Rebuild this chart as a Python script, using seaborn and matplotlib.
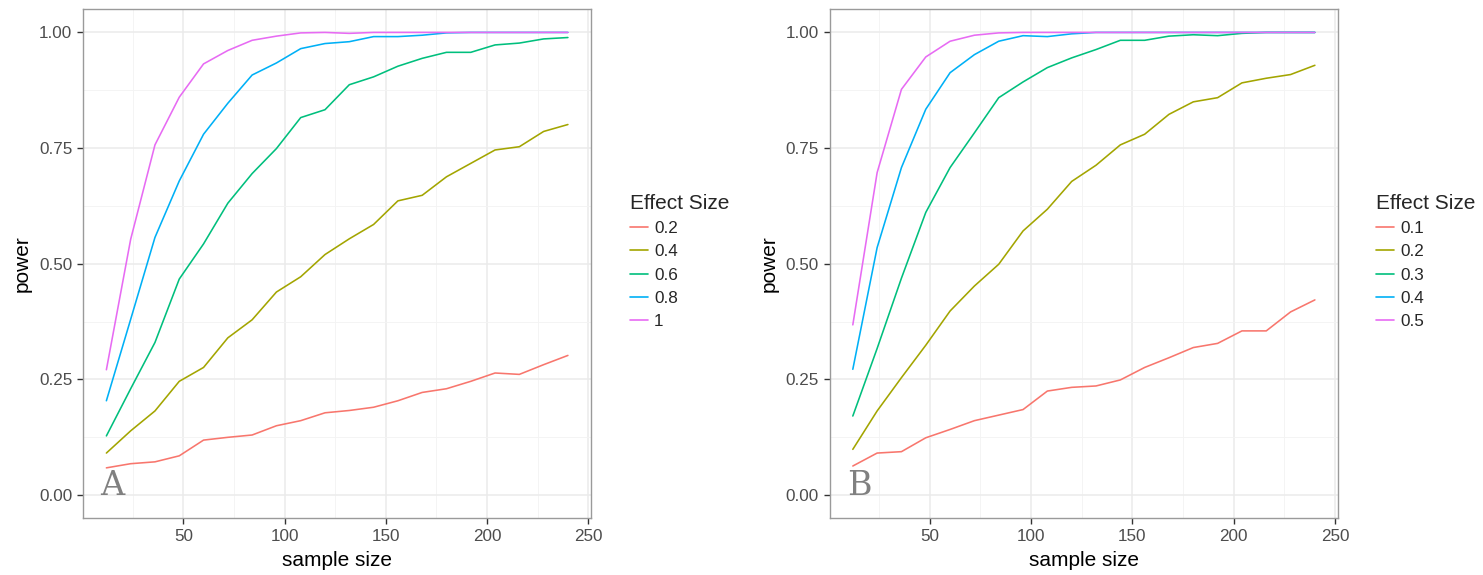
import numpy as np
import pandas as pd
import matplotlib
matplotlib.use("Agg")
import matplotlib.pyplot as plt
import seaborn as sns
from matplotlib.ticker import FixedLocator

sample_size = [12, 24, 36, 48, 60, 72, 84, 96, 108, 120, 132, 144, 156, 168, 180, 192, 204, 216, 228, 240]

# Panel A
labels_a = ["0.2", "0.4", "0.6", "0.8", "1"]
a_02 = [0.059, 0.068, 0.072, 0.085, 0.119, 0.125, 0.130, 0.150, 0.161, 0.178, 0.183, 0.190, 0.204, 0.222, 0.230, 0.246, 0.264, 0.261, 0.282, 0.302]
a_04 = [0.091, 0.139, 0.182, 0.246, 0.276, 0.340, 0.379, 0.439, 0.472, 0.520, 0.554, 0.585, 0.636, 0.648, 0.688, 0.717, 0.746, 0.753, 0.786, 0.801]
a_06 = [0.128, 0.230, 0.330, 0.467, 0.543, 0.631, 0.695, 0.749, 0.816, 0.833, 0.887, 0.904, 0.927, 0.944, 0.957, 0.957, 0.973, 0.977, 0.986, 0.989]
a_08 = [0.204, 0.380, 0.557, 0.679, 0.780, 0.847, 0.908, 0.934, 0.965, 0.976, 0.980, 0.991, 0.991, 0.994, 0.999, 1.000, 1.000, 1.000, 1.000, 1.000]
a_10 = [0.271, 0.553, 0.757, 0.860, 0.932, 0.961, 0.983, 0.992, 0.999, 1.000, 0.998, 1.000, 1.000, 1.000, 1.000, 1.000, 1.000, 1.000, 1.000, 1.000]

# Panel B
labels_b = ["0.1", "0.2", "0.3", "0.4", "0.5"]
b_01 = [0.063, 0.091, 0.094, 0.124, 0.142, 0.161, 0.173, 0.185, 0.225, 0.233, 0.236, 0.249, 0.276, 0.297, 0.319, 0.328, 0.355, 0.355, 0.396, 0.422]
b_02 = [0.099, 0.182, 0.254, 0.324, 0.398, 0.452, 0.499, 0.571, 0.618, 0.678, 0.713, 0.757, 0.780, 0.823, 0.850, 0.859, 0.891, 0.901, 0.909, 0.929]
b_03 = [0.171, 0.317, 0.469, 0.611, 0.708, 0.783, 0.859, 0.893, 0.924, 0.945, 0.963, 0.983, 0.983, 0.992, 0.995, 0.993, 0.998, 1.000, 1.000, 1.000]
b_04 = [0.272, 0.535, 0.708, 0.834, 0.913, 0.952, 0.981, 0.993, 0.991, 0.997, 1.000, 1.000, 1.000, 1.000, 1.000, 1.000, 1.000, 1.000, 1.000, 1.000]
b_05 = [0.368, 0.697, 0.877, 0.947, 0.981, 0.994, 0.999, 1.000, 1.000, 1.000, 1.000, 1.000, 1.000, 1.000, 1.000, 1.000, 1.000, 1.000, 1.000, 1.000]

palette = ["#F8766D", "#A3A500", "#00BF7D", "#00B0F6", "#E76BF3"]

sns.set_style("white")
plt.rcParams["font.family"] = ["Liberation Sans", "DejaVu Sans"]


def long_df(labels, series):
    rows = []
    for lab, vals in zip(labels, series):
        for x, y in zip(sample_size, vals):
            rows.append({"sample size": x, "power": y, "Effect Size": lab})
    return pd.DataFrame(rows)


df_a = long_df(labels_a, [a_02, a_04, a_06, a_08, a_10])
df_b = long_df(labels_b, [b_01, b_02, b_03, b_04, b_05])

fig = plt.figure(figsize=(14.83, 5.75), dpi=100)
ax_a = fig.add_axes([83.3 / 1483, 1 - 518.3 / 575, 507.7 / 1483, 509 / 575])
ax_b = fig.add_axes([829.7 / 1483, 1 - 518.3 / 575, 508.3 / 1483, 509 / 575])


def style(ax, df, labels, letter, leg_x):
    sns.lineplot(data=df, x="sample size", y="power", hue="Effect Size",
                 hue_order=labels, palette=palette, errorbar=None,
                 linewidth=1.15, ax=ax, legend=True, zorder=3)
    ax.set_xlim(0.6, 251.4)
    ax.set_ylim(-0.05, 1.05)
    ax.xaxis.set_major_locator(FixedLocator([50, 100, 150, 200, 250]))
    ax.xaxis.set_minor_locator(FixedLocator([25, 75, 125, 175, 225]))
    ax.yaxis.set_major_locator(FixedLocator([0, 0.25, 0.5, 0.75, 1.0]))
    ax.yaxis.set_minor_locator(FixedLocator([0.125, 0.375, 0.625, 0.875]))
    ax.set_yticklabels(["0.00", "0.25", "0.50", "0.75", "1.00"])
    ax.set_xticklabels(["50", "100", "150", "200", "250"])
    ax.grid(which="major", color="#EBEBEB", linewidth=1.1, zorder=0)
    ax.grid(which="minor", color="#F3F3F3", linewidth=0.6, zorder=0)
    ax.set_axisbelow(True)
    for s in ax.spines.values():
        s.set_color("#9A9A9A")
        s.set_linewidth(1.0)
    ax.tick_params(which="major", length=4, width=1.0, color="#333333",
                   labelcolor="#4D4D4D", labelsize=12.3, pad=4,
                   bottom=True, left=True)
    ax.tick_params(which="minor", length=0)
    ax.set_xlabel("sample size", fontsize=15, color="black", labelpad=5)
    ax.set_ylabel("power", fontsize=15, color="black", labelpad=5)
    ax.text(15, 0.0, letter, fontsize=24, family="DejaVu Serif",
            color="#808080", ha="center", va="baseline", zorder=4)
    handles, labs = ax.get_legend_handles_labels()
    ax.get_legend().remove()
    leg = fig.legend(handles, labs, title="Effect Size", loc="upper left",
                     bbox_to_anchor=(leg_x / 1483, 1 - 194 / 575),
                     frameon=False, fontsize=12.3, title_fontsize=15,
                     handlelength=1.05, handletextpad=0.35, labelspacing=0.48,
                     borderpad=0, borderaxespad=0, alignment="left")
    for ln in leg.get_lines():
        ln.set_linewidth(1.2)


style(ax_a, df_a, labels_a, "A", 630)
style(ax_b, df_b, labels_b, "B", 1376)

fig.savefig("out.png", dpi=100)
